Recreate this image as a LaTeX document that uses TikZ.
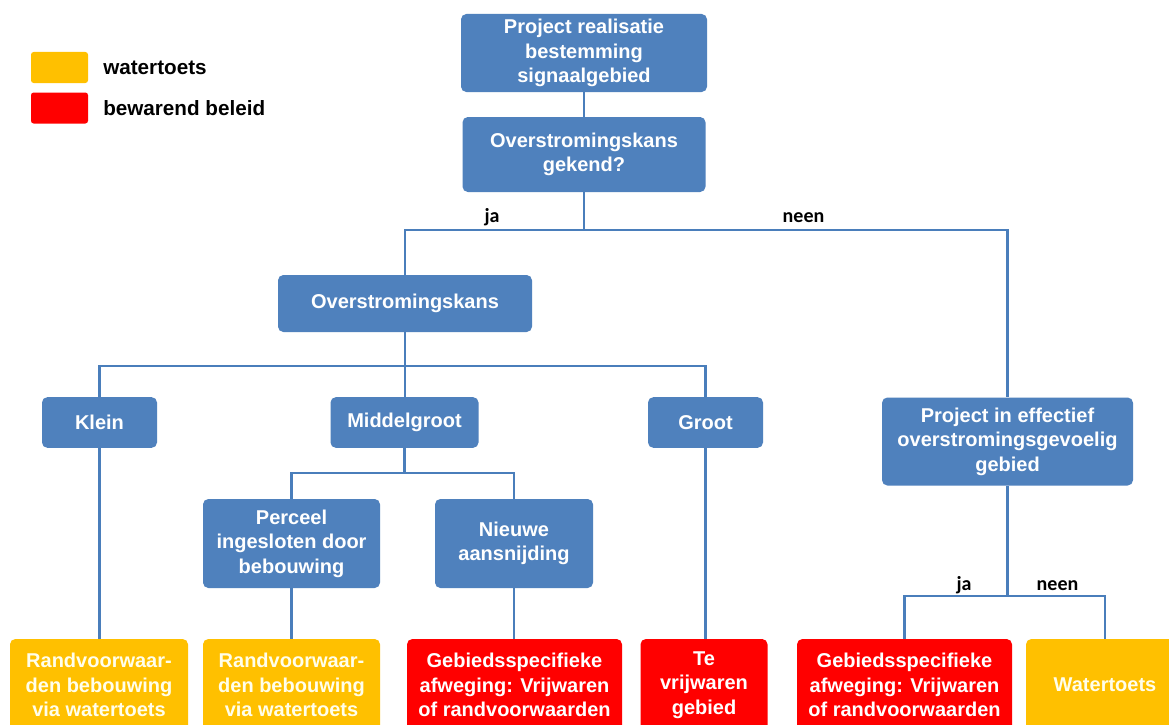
\documentclass[tikz,border=0pt]{standalone}
\usepackage{fontspec}
\setmainfont{Liberation Sans}
\newfontfamily\lblfont{Carlito}
\definecolor{boxblue}{HTML}{4F81BD}
\definecolor{boxyellow}{HTML}{FFC000}
\definecolor{boxred}{HTML}{FF0000}
\definecolor{linecol}{HTML}{4A7EBB}
\tikzset{
  basebox/.style={rectangle, rounded corners=4pt, text=white, align=center, inner sep=0pt,
    font=\fontsize{15}{18.4}\selectfont\bfseries},
  bluebox/.style={basebox, fill=boxblue},
  yelbox/.style={basebox, fill=boxyellow, text=white!92!yellow},
  redbox/.style={basebox, fill=boxred},
  conn/.style={draw=linecol, line width=1.7pt},
  lbl/.style={font=\lblfont\fontsize{15}{17}\selectfont\bfseries, text=black, inner sep=0pt, anchor=base},
  legtxt/.style={font=\fontsize{15.5}{18}\selectfont\bfseries, text=black, anchor=west, inner sep=0pt},
  legbox/.style={rectangle, rounded corners=2pt, inner sep=0pt, minimum width=42.75pt, minimum height=23.25pt}
}
\begin{document}
\begin{tikzpicture}[x=0.75pt,y=-0.75pt]
\useasboundingbox (0,0) rectangle (1169,724);
\clip (0,0) rectangle (1169,724);
\fill[white] (0,0) rectangle (1169,724);

% legend
\node[legbox, fill=boxyellow] (ly) at (59.5,67.5) {};
\node[legbox, fill=boxred] (lr) at (59.5,108) {};
\node[legtxt] (lyt) at (103,67.5) {watertoets};
\node[legtxt] (lrt) at (103,108) {bewarend beleid};

% top nodes
\node[bluebox, minimum width=184.5pt, minimum height=58.5pt] (A) at (584,53) {Project realisatie\\bestemming\\signaalgebied};
\node[bluebox, minimum width=182.25pt, minimum height=56.25pt] (B) at (584,154.5) {Overstromingskans\\gekend?};
\node[bluebox, minimum width=190.5pt, minimum height=42.75pt] (C) at (405,303.5) {Overstromingskans};
\node[bluebox, minimum width=188.25pt, minimum height=66pt] (P) at (1007.5,441.5) {Project in effectief\\overstromingsgevoelig\\gebied};

% middle level
\node[bluebox, minimum width=86.25pt, minimum height=38pt] (K) at (99.5,422.5) {Klein};
\node[bluebox, minimum width=111pt, minimum height=38pt] (M) at (404.5,422.5) {Middelgroot};
\node[bluebox, minimum width=86.25pt, minimum height=38pt] (G) at (705.5,422.5) {Groot};
\node[bluebox, minimum width=132.75pt, minimum height=66.75pt] (Pc) at (291.5,543.5) {Perceel\\ingesloten door\\bebouwing};
\node[bluebox, minimum width=118.5pt, minimum height=66.75pt] (N) at (514,543.5) {Nieuwe\\aansnijding};

% bottom level
\node[yelbox, minimum width=133.5pt, minimum height=69pt] (B1) at (99,685) {Randvoorwaar-\\den bebouwing\\via watertoets};
\node[yelbox, minimum width=132.75pt, minimum height=69pt] (B2) at (291.5,685) {Randvoorwaar-\\den bebouwing\\via watertoets};
\node[redbox, minimum width=161.25pt, minimum height=69pt] (B3) at (514.5,685) {Gebiedsspecifieke\\afweging: Vrijwaren\\of randvoorwaarden};
\node[redbox, minimum width=95.25pt, minimum height=69pt] (B4) at (704,685) {Te\\vrijwaren\\gebied};
\node[redbox, minimum width=161.25pt, minimum height=69pt] (B5) at (904.5,685) {Gebiedsspecifieke\\afweging: Vrijwaren\\of randvoorwaarden};
\node[yelbox, minimum width=118.5pt, minimum height=69pt] (B6) at (1105,685) {Watertoets};

% junctions
\coordinate (j1) at (584,230);
\coordinate (j2) at (405,366);
\coordinate (j3) at (404.5,473);
\coordinate (j4) at (1007.5,596);

% connectors
\draw[conn] (A.south) -- (A.south |- B.north);
\draw[conn] (B.south) -- (j1);
\draw[conn] (C.north) |- (j1) -| (P.north);
\draw[conn] (C.south) -- (j2);
\draw[conn] (K.north) |- (j2) -| (G.north);
\draw[conn] (j2) -- (j2 |- M.north);
\draw[conn] (M.south) -- (j3);
\draw[conn] (Pc.north) |- (j3) -| (N.north);
\draw[conn] (P.south) -- (j4);
\draw[conn] (B5.north) |- (j4) -| (B6.north);
\draw[conn] (K.south) -- (K.south |- B1.north);
\draw[conn] (Pc.south) -- (Pc.south |- B2.north);
\draw[conn] (N.south) -- (N.south |- B3.north);
\draw[conn] (G.south) -- (G.south |- B4.north);

% labels
\node[lbl] (lja1) at (492,222) {ja};
\node[lbl] (lnee1) at (803.5,222) {neen};
\node[lbl] (lja2) at (964,590) {ja};
\node[lbl] (lnee2) at (1057.5,590) {neen};
\end{tikzpicture}
\end{document}
